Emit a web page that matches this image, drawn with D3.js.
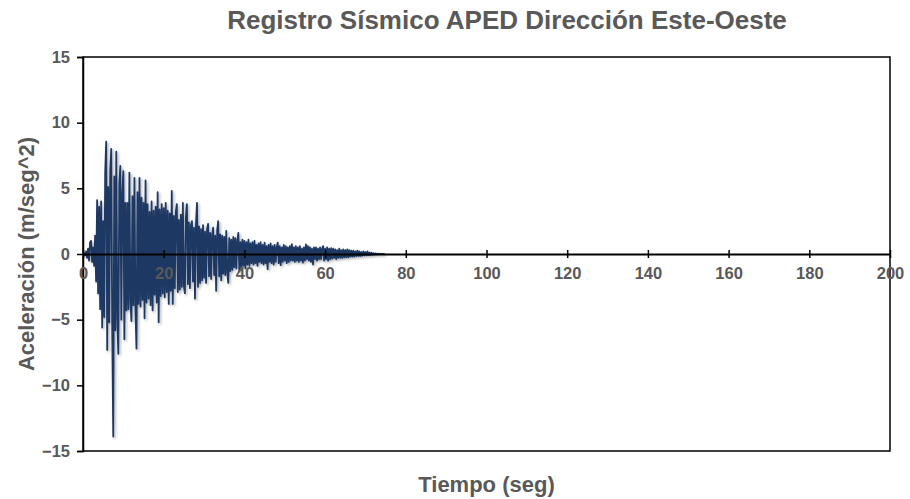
<!DOCTYPE html>
<html>
<head>
<meta charset="utf-8">
<script src="https://cdn.jsdelivr.net/npm/d3@7"></script>
<style>
  html, body { margin: 0; padding: 0; background: #fff; }
  svg { display: block; }
  text { font-family: "Liberation Sans", Arial, sans-serif; font-weight: bold; fill: #595959; }
</style>
</head>
<body>
<svg id="chart" width="910" height="499"></svg>
<script>
// Acceleration record, East-West component (m/s^2), sampled every 0.25 s
const sampleStep = 0.25;
const acceleration = [
  // 0 - 4.75 s
  0, 0.05, -0.1, 0.2, -0.3, 0.4, -0.5, 0.9, 1.0, -0.6, 0.5, -0.9, 1.4, -2.1, 4.1, -3.0, 3.6, -4.2, 4.0, -5.6,
  // 5 - 9.75 s
  2.5, -4.8, 6.2, 8.55, -7.3, 5.1, -5.2, 6.4, 8.0, -6.1, -13.9, 5.9, -5.8, 7.8, -4.9, -7.6, 5.3, 6.7, -5.0, 4.6,
  // 10 - 14.75 s
  6.3, -6.5, 3.9, -4.3, 3.9, -4.2, 6.2, -3.6, -5.1, 4.4, -3.9, 5.8, -4.2, -7.2, 4.7, -3.8, 5.8, -4.0, 4.3, -3.5,
  // 15 - 19.75 s
  3.9, -4.9, 5.6, -3.7, 3.8, -3.4, 3.2, -3.9, 4.0, -4.3, 3.3, -3.1, 3.6, -3.7, 4.7, -5.2, 3.4, -3.2, 3.8, -3.0,
  // 20 - 24.75 s
  3.5, -3.3, 3.9, -2.9, 3.3, -3.8, 3.1, -2.8, 4.8, -3.8, 2.9, -2.6, 3.2, 3.8, -2.9, 2.6, -2.7, 3.0, -2.5, 3.9,
  // 25 - 29.75 s
  -2.4, -3.0, 2.8, 3.8, -2.3, 2.4, -2.6, 2.2, 2.5, -2.1, 2.0, -3.4, 2.3, 3.9, -2.5, 2.1, -2.2, 1.9, -2.0, 2.2,
  // 30 - 34.75 s
  -1.8, 1.7, -2.2, 1.9, 2.3, -1.7, 1.6, -1.9, 1.5, 2.0, -1.6, 1.4, -2.8, 1.8, 2.5, -1.7, 1.5, -2.0, 1.4, -1.5,
  // 35 - 39.75 s
  1.3, -1.6, 1.75, -1.4, -2.2, 1.2, -1.3, 1.1, -1.2, 1.3, -1.0, 1.2, -1.1, 1.0, 1.6, -1.3, 0.9, -1.0, 1.1, -0.9,
  // 40 - 44.75 s
  1.0, -1.1, 0.9, -0.8, 1.1, -0.9, 0.8, -0.7, 0.9, -0.8, 1.0, -0.7, 0.7, -0.9, 0.8, -0.6, 0.9, -0.7, 0.7, -0.8,
  // 45 - 49.75 s
  0.86, -0.7, 0.6, -1.15, 0.7, -0.6, 0.8, -0.7, 0.6, -0.8, 0.7, -0.6, 0.5, 0.86, -0.7, 0.6, -0.85, 0.5, -0.6, 0.7,
  // 50 - 54.75 s
  -0.5, 0.6, -0.7, 0.5, -0.6, 0.6, -0.5, 0.75, -0.5, 0.5, -0.6, 0.6, -0.5, 0.5, -0.6, 0.6, -0.5, 0.4, -0.66, 0.5,
  // 55 - 59.75 s
  -0.5, 0.74, -0.4, 0.6, -0.5, 0.5, -0.6, 0.4, -0.8, 0.5, -0.4, 0.5, -0.5, 0.4, -0.4, 0.5, -0.4, 0.4, 0.6, -0.5,
  // 60 - 64.75 s
  0.4, -0.4, 0.5, -0.5, 0.4, -0.4, 0.45, -0.35, 0.4, -0.3, 0.35, -0.4, 0.3, -0.3, 0.4, -0.3, 0.3, -0.3, 0.35, -0.25,
  // 65 - 69.75 s
  0.3, -0.25, 0.35, -0.25, 0.3, -0.2, 0.25, -0.2, 0.25, -0.2, 0.2, -0.15, 0.25, -0.15, 0.2, -0.15, 0.15, -0.12, 0.2, -0.1,
  // 70 - 74.75 s
  0.15, -0.1, 0.2, -0.08, 0.1, -0.08, 0.1, -0.05, 0.06, -0.04, 0.05, -0.03, 0.03, -0.02, 0.02, -0.01, 0.01, 0, 0, 0
];

const xTicks = [0, 20, 40, 60, 80, 100, 120, 140, 160, 180, 200];
const yTicks = [-15, -10, -5, 0, 5, 10, 15];

const titleText = "Registro Sísmico APED Dirección Este-Oeste";
const xTitle = "Tiempo (seg)";
const yTitle = "Aceleración (m/seg^2)";

const series = acceleration.map((a, i) => ({ t: i * sampleStep, a }));

const margin = { left: 83, right: 20, top: 57, bottom: 48 };
const W = 910, H = 499;
const svg = d3.select("#chart");

const x = d3.scaleLinear().domain([0, 200]).range([margin.left, W - margin.right]);
const y = d3.scaleLinear().domain([-15, 15]).range([H - margin.bottom, margin.top]);

// soft shadow under the trace
const defs = svg.append("defs");
const f = defs.append("filter").attr("id", "shadow").attr("x", "-5%").attr("y", "-5%").attr("width", "110%").attr("height", "110%");
f.append("feDropShadow").attr("dx", 1.5).attr("dy", 1.5).attr("stdDeviation", 1.2)
  .attr("flood-color", "#000").attr("flood-opacity", 0.3);

// plot frame
svg.append("rect")
  .attr("x", x(0)).attr("y", y(15))
  .attr("width", x(200) - x(0)).attr("height", y(-15) - y(15))
  .attr("fill", "none").attr("stroke", "#000").attr("stroke-width", 1.5);

// acceleration trace
const line = d3.line().x(d => x(d.t)).y(d => y(d.a));
svg.append("path")
  .datum(series)
  .attr("d", line)
  .attr("fill", "none")
  .attr("stroke", "#1F3864")
  .attr("stroke-width", 1.8)
  .attr("stroke-linejoin", "round")
  .attr("filter", "url(#shadow)");

const tickFont = sel => sel.style("font-size", "16.5px").attr("fill", "#595959")
  .style("font-family", "'Liberation Sans', Arial, sans-serif").style("font-weight", "bold");

// left axis
const yAxis = d3.axisLeft(y).tickValues(yTicks).tickSize(6).tickPadding(7).tickFormat(d3.format("d"));
const gy = svg.append("g").attr("transform", `translate(${x(0)},0)`).call(yAxis);
gy.select(".domain").attr("stroke", "#000").attr("stroke-width", 1.5);
gy.selectAll(".tick line").attr("stroke", "#000").attr("stroke-width", 1.5);
gy.selectAll(".tick text").call(tickFont);

// horizontal axis along zero, with crossing tick marks
const xAxis = d3.axisBottom(x).tickValues(xTicks).tickSizeInner(4).tickSizeOuter(0).tickPadding(9).tickFormat(d3.format("d"));
const gx = svg.append("g").attr("transform", `translate(0,${y(0)})`).call(xAxis);
gx.select(".domain").attr("stroke", "#000").attr("stroke-width", 2);
gx.selectAll(".tick line").attr("y1", -4).attr("y2", 4).attr("stroke", "#000").attr("stroke-width", 1.5);
gx.selectAll(".tick text").call(tickFont);

// titles
svg.append("text").attr("x", 507).attr("y", 29).attr("text-anchor", "middle")
  .style("font-size", "26px").text(titleText);
svg.append("text").attr("x", (x(0) + x(200)) / 2).attr("y", 492).attr("text-anchor", "middle")
  .style("font-size", "22px").text(xTitle);
svg.append("text").attr("transform", `translate(34,${y(0)}) rotate(-90)`).attr("text-anchor", "middle")
  .style("font-size", "22px").text(yTitle);
</script>
</body>
</html>
